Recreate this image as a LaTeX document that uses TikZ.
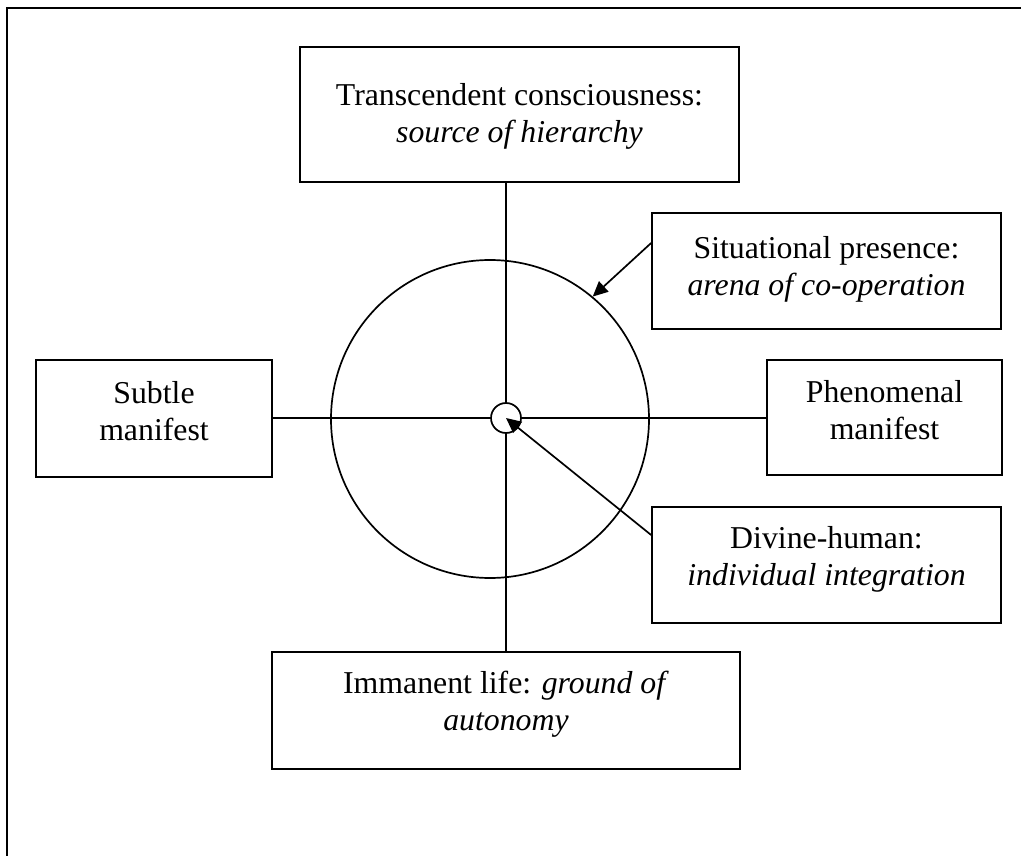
\documentclass[tikz,border=0pt]{standalone}
\usepackage{fontspec}
\setmainfont{Liberation Serif}
\usetikzlibrary{arrows.meta,calc}
\begin{document}
\begin{tikzpicture}[x=1pt,y=-1pt,
  ln/.style={line width=1.7pt},
  box/.style={draw,line width=1.7pt,inner sep=0pt},
  txt/.style={inner sep=0pt,align=center,font=\fontsize{31.8}{37}\selectfont},
  arr/.style={line width=1.7pt,-{Triangle[length=15pt,width=14pt]}}]
\useasboundingbox (0,0) rectangle (1021,856);
% outer frame
\coordinate (fbl) at (7,870);
\coordinate (ftl) at (7,8);
\coordinate (ftr) at (1030,8);
\draw[line width=2pt] (fbl) -- (ftl) -- (ftr);
% boxes
\node[box,minimum width=439pt,minimum height=135pt] (top) at (519.5,114.5) {};
\node[txt] (topt) at (519.5,116) {Transcendent consciousness:\\ \textit{source of hierarchy}};
\node[box,minimum width=236pt,minimum height=117pt] (sub) at (154,418.5) {};
\node[txt] (subt) at (154,411) {Subtle\\ manifest};
\node[box,minimum width=235pt,minimum height=115pt] (phe) at (884.5,417.5) {};
\node[txt] (phet) at (884.5,410) {Phenomenal\\ manifest};
\node[box,minimum width=349pt,minimum height=116pt] (sit) at (826.5,271) {};
\node[txt] (sitt) at (826.5,269) {Situational presence:\\ \textit{arena of co-operation}};
\node[box,minimum width=349pt,minimum height=116pt] (div) at (826.5,565) {};
\node[txt] (divt) at (826.5,559) {Divine-human:\\ \textit{individual integration}};
\node[box,minimum width=468pt,minimum height=117pt] (bot) at (506,710.5) {};
\node[txt] (bott) at (506,704) {Immanent life: \textit{ground of}\\ \textit{autonomy}};
% circles
\node[circle,draw,line width=1.7pt,minimum size=318pt,inner sep=0pt] (c) at (490,419) {};
\node[circle,minimum size=30pt,inner sep=0pt] (s) at (506,418) {};
% axes
\draw[ln] (top.south -| s) -- (bot.north -| s);
\draw[ln] (sub.east |- s) -- (phe.west |- s);
\node[circle,draw,fill=white,line width=1.7pt,minimum size=30pt,inner sep=0pt] at (s) {};
% arrows
\draw[arr] ([yshift=28pt]sit.west) -- (c.50);
\draw[arr] ([yshift=30pt]div.west) -- (s.center);
\end{tikzpicture}
\end{document}
